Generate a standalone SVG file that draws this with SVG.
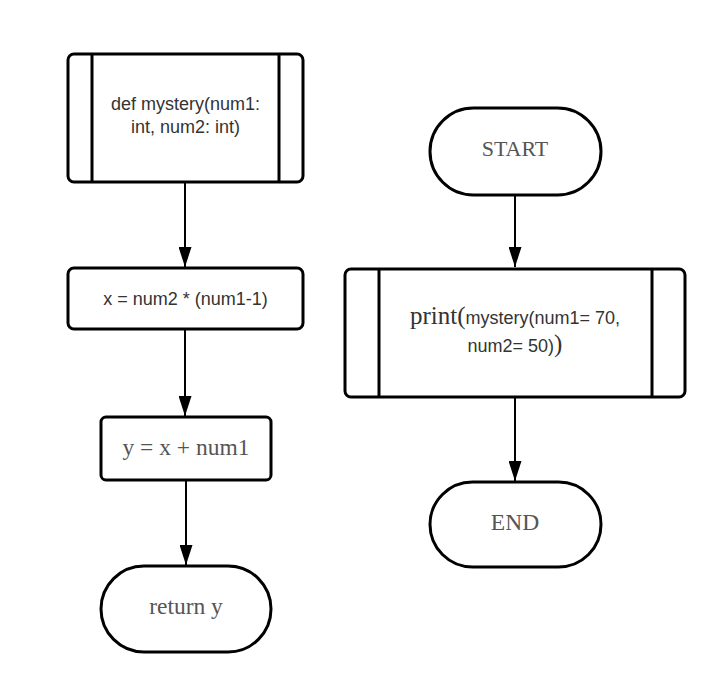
<svg xmlns="http://www.w3.org/2000/svg" width="726" height="687" viewBox="0 0 726 687">
<style>
.box{fill:#fff;stroke:#000;stroke-width:3}
.ln{stroke:#000;stroke-width:3;fill:none}
.con{stroke:#000;stroke-width:2;fill:none}
.sans{font-family:"Liberation Sans",Arial,sans-serif;fill:#333;text-anchor:middle;font-size:18px}
.serif{font-family:"Liberation Serif","Times New Roman",serif;fill:#555;text-anchor:middle;font-size:23.5px}
</style>
<defs>
<marker id="ah2" markerWidth="20" markerHeight="13" refX="20" refY="6.5" orient="auto" markerUnits="userSpaceOnUse" viewBox="0 0 20 13">
<path d="M0,0 L20,6.5 L0,13 Z" fill="#000"/>
</marker>
</defs>
<rect width="726" height="687" fill="#fff"/>
<g id="connectors">
<line class="con" x1="185" y1="182" x2="185" y2="267" marker-end="url(#ah2)"/>
<line class="con" x1="185" y1="329" x2="185" y2="416" marker-end="url(#ah2)"/>
<line class="con" x1="186" y1="480" x2="186" y2="565" marker-end="url(#ah2)"/>
<line class="con" x1="515" y1="195" x2="515" y2="267" marker-end="url(#ah2)"/>
<line class="con" x1="515" y1="397" x2="515" y2="481" marker-end="url(#ah2)"/>
</g>
<g id="def">
<rect class="box" x="68" y="54" width="235" height="128" rx="6"/>
<line class="ln" x1="92" y1="54" x2="92" y2="182"/>
<line class="ln" x1="279" y1="54" x2="279" y2="182"/>
<text class="sans" x="185.5" y="110">def mystery(num1:</text>
<text class="sans" x="185.5" y="133">int, num2: int)</text>
</g>
<g id="assignx">
<rect class="box" x="68" y="268" width="235" height="61" rx="6"/>
<text class="sans" x="185.5" y="305">x = num2 * (num1-1)</text>
</g>
<g id="assigny">
<rect class="box" x="101" y="417" width="170" height="63" rx="5"/>
<text class="serif" x="186" y="455">y = x + num1</text>
</g>
<g id="return">
<rect class="box" x="101" y="566" width="170" height="86" rx="43"/>
<text class="serif" x="186" y="614">return y</text>
</g>
<g id="start">
<rect class="box" x="430" y="108" width="171" height="87" rx="43.5"/>
<text class="serif" x="515" y="156" style="font-size:22px">START</text>
</g>
<g id="print">
<rect class="box" x="345" y="269" width="340" height="128" rx="6"/>
<line class="ln" x1="379" y1="269" x2="379" y2="397"/>
<line class="ln" x1="652" y1="269" x2="652" y2="397"/>
<text x="515" y="324" text-anchor="middle" fill="#333"><tspan font-family="Liberation Serif,serif" font-size="25">print(</tspan><tspan font-family="Liberation Sans,sans-serif" font-size="18">mystery(num1= 70,</tspan></text>
<text x="515" y="352" text-anchor="middle" fill="#333"><tspan font-family="Liberation Sans,sans-serif" font-size="18">num2= 50)</tspan><tspan font-family="Liberation Serif,serif" font-size="25">)</tspan></text>
</g>
<g id="end">
<rect class="box" x="430" y="482" width="171" height="85" rx="42.5"/>
<text class="serif" x="515" y="530">END</text>
</g>
</svg>
